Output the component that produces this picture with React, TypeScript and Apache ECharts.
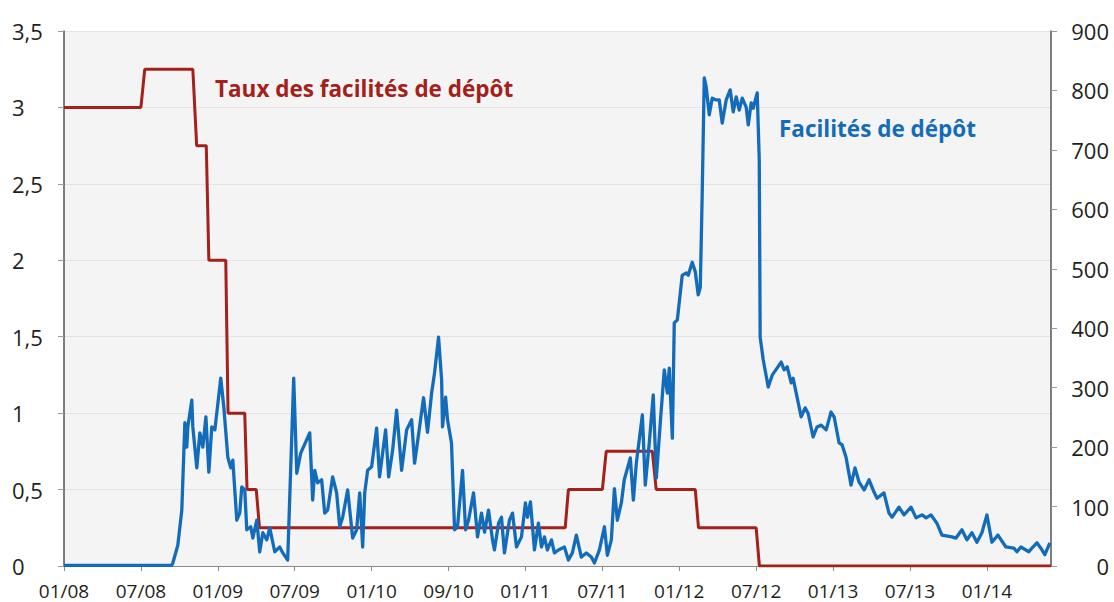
import React, { useEffect, useRef } from "react";
import * as echarts from "echarts";

// x values are months since 01/2008
const xTickLabels = ["01/08", "07/08", "01/09", "07/09", "01/10", "09/10", "01/11", "07/11", "01/12", "07/12", "01/13", "07/13", "01/14"];
const leftTickLabels = ["0", "0,5", "1", "1,5", "2", "2,5", "3", "3,5"];
const rightTickLabels = ["0", "100", "200", "300", "400", "500", "600", "700", "800", "900"];

const rateMonths = [0, 6.0, 6.3, 10.05, 10.35, 11.1, 11.3, 12.62, 12.8, 14.1, 14.28, 15.0, 15.25, 39.1, 39.35, 42.0, 42.3, 45.9, 46.2, 49.25, 49.5, 54.0, 54.25, 77];
const rateValues = [3, 3, 3.25, 3.25, 2.75, 2.75, 2.0, 2.0, 1.0, 1.0, 0.5, 0.5, 0.25, 0.25, 0.5, 0.5, 0.75, 0.75, 0.5, 0.5, 0.25, 0.25, 0, 0];

const depositMonths = [
  0, 4, 8.4, 8.49, 8.88, 9.19, 9.43, 9.58, 9.66, 9.97, 10.05, 10.36, 10.6, 10.83, 11.07, 11.3, 11.53, 11.77, 12.23, 12.47,
  12.78, 13.01, 13.17, 13.48, 13.71, 13.87, 14.1, 14.26, 14.57, 14.73, 15.04, 15.27, 15.51, 15.82, 16.05, 16.44, 16.83, 17.07, 17.45, 17.92,
  18.16, 18.47, 19.17, 19.4, 19.56, 19.79, 20.1, 20.34, 20.57, 20.96, 21.27, 21.51, 21.74, 22.13, 22.52, 22.83, 23.07, 23.3, 23.46, 23.69,
  24.0, 24.39, 24.62, 25.09, 25.33, 25.64, 25.95, 26.34, 26.73, 27.12, 27.35, 27.74, 28.05, 28.36, 28.68, 28.91, 29.22, 29.46, 29.53, 29.77,
  29.92, 30.23, 30.47, 30.7, 31.09, 31.33, 31.56, 31.95, 32.26, 32.57, 32.81, 33.12, 33.43, 33.58, 33.9, 34.13, 34.36, 34.75, 34.99, 35.3,
  35.69, 36.0, 36.16, 36.39, 36.7, 37.01, 37.25, 37.48, 37.71, 38.03, 38.26, 38.57, 39.04, 39.35, 39.66, 39.97, 40.36, 40.75, 41.14, 41.38,
  41.77, 42.16, 42.39, 42.7, 42.94, 43.17, 43.48, 43.71, 44.18, 44.42, 44.65, 45.12, 45.35, 45.66, 45.97, 46.21, 46.52, 46.83, 47.07, 47.22,
  47.46, 47.61, 47.85, 48.23, 48.55, 48.7, 49.01, 49.25, 49.48, 49.64, 49.79, 49.95, 50.1, 50.34, 50.57, 50.88, 51.12, 51.35, 51.66, 51.97,
  52.21, 52.44, 52.68, 52.91, 53.22, 53.38, 53.61, 53.77, 54.08, 54.24, 54.31, 54.55, 54.94, 55.25, 55.95, 56.18, 56.42, 56.73, 56.88, 57.51,
  57.82, 58.05, 58.44, 58.75, 59.07, 59.46, 59.84, 60.08, 60.47, 60.7, 61.01, 61.4, 61.71, 62.03, 62.42, 62.81, 63.2, 63.43, 63.97, 64.36,
  64.6, 65.14, 65.53, 66.08, 66.47, 66.94, 67.25, 67.64, 68.1, 68.49, 69.27, 69.59, 70.05, 70.44, 70.83, 71.22, 71.61, 72.0, 72.39, 72.86,
  73.48, 74.1, 74.34, 74.65, 75.27, 75.51, 75.9, 76.21, 76.52, 76.91
];
const depositValues = [
  1, 1, 1, 5, 35, 94, 241, 200, 234, 279, 234, 165, 224, 200, 251, 158, 234, 229, 316, 267,
  183, 165, 178, 77, 89, 133, 128, 61, 66, 47, 77, 24, 56, 44, 64, 24, 32, 22, 10, 316,
  156, 190, 224, 111, 161, 140, 145, 89, 94, 150, 123, 66, 82, 128, 47, 61, 123, 32, 123, 161,
  167, 232, 150, 229, 150, 195, 262, 161, 229, 246, 173, 234, 283, 225, 291, 325, 385, 313, 234, 284,
  246, 207, 61, 66, 161, 61, 77, 123, 49, 89, 57, 94, 44, 27, 72, 82, 22, 77, 89, 32,
  49, 106, 82, 108, 27, 72, 32, 49, 27, 44, 22, 27, 32, 10, 22, 52, 15, 22, 15, 5,
  27, 66, 18, 44, 130, 77, 106, 145, 182, 111, 173, 254, 136, 207, 288, 148, 241, 330, 291, 333,
  215, 409, 414, 489, 493, 489, 511, 495, 456, 469, 627, 821, 806, 759, 787, 784, 784, 745, 784, 801,
  764, 789, 767, 787, 772, 742, 779, 770, 796, 683, 385, 347, 301, 321, 343, 330, 335, 308, 316, 251,
  266, 257, 217, 234, 237, 229, 259, 251, 207, 204, 183, 136, 165, 141, 128, 145, 124, 114, 123, 89,
  82, 99, 86, 99, 81, 86, 81, 86, 72, 52, 49, 47, 61, 44, 56, 40, 56, 86, 40, 52,
  32, 30, 24, 32, 24, 30, 39, 30, 19, 39
];

const rateLabel = "Taux des facilités de dépôt";
const depositLabel = "Facilités de dépôt";

const RED = "#a3201b";
const BLUE = "#136cba";
const FONT = "Open Sans";

export default function App() {
  const ref = useRef<HTMLDivElement>(null);
  useEffect(() => {
    document.body.style.margin = "0";
    if (!ref.current) return;
    const chart = echarts.init(ref.current, null, { renderer: "svg" });
    const axisLabelBase = { color: "#231f20", fontSize: 22, fontFamily: FONT };
    chart.setOption({
      animation: false,
      backgroundColor: "#ffffff",
      grid: {
        left: 64,
        right: 63,
        top: 31,
        bottom: 36,
        show: true,
        backgroundColor: "#f4f4f4",
        borderWidth: 0,
      },
      xAxis: {
        type: "value",
        min: 0,
        max: 77,
        interval: 6,
        axisLine: { show: true, onZero: false, lineStyle: { color: "#8a8a8a", width: 1 } },
        axisTick: { show: true, length: 5, lineStyle: { color: "#8a8a8a" } },
        splitLine: { show: false },
        axisLabel: {
          ...axisLabelBase,
          fontSize: 19,
          margin: 15,
          showMaxLabel: false,
          formatter: (v: number) => xTickLabels[Math.round(v / 6)] ?? "",
        },
      },
      yAxis: [
        {
          type: "value",
          min: 0,
          max: 3.5,
          interval: 0.5,
          position: "left",
          axisLine: { show: true, lineStyle: { color: "#555555", width: 1.5 } },
          axisTick: { show: true, length: 6, lineStyle: { color: "#9a9a9a" } },
          splitLine: { show: true, lineStyle: { color: "#e3e3e3", width: 1 } },
          axisLabel: {
            ...axisLabelBase,
            align: "left",
            margin: 52,
            formatter: (v: number) => leftTickLabels[Math.round(v / 0.5)] ?? "",
          },
        },
        {
          type: "value",
          min: 0,
          max: 900,
          interval: 100,
          position: "right",
          axisLine: { show: true, lineStyle: { color: "#555555", width: 1.5 } },
          axisTick: { show: true, length: 6, lineStyle: { color: "#9a9a9a" } },
          splitLine: { show: false },
          axisLabel: {
            ...axisLabelBase,
            align: "right",
            margin: 58,
            formatter: (v: number) => rightTickLabels[Math.round(v / 100)] ?? "",
          },
        },
      ],
      series: [
        {
          type: "line",
          name: rateLabel,
          yAxisIndex: 0,
          data: rateMonths.map((m, i) => [m, rateValues[i]]),
          symbol: "none",
          lineStyle: { color: RED, width: 3 },
          z: 2,
        },
        {
          type: "line",
          name: depositLabel,
          yAxisIndex: 1,
          data: depositMonths.map((m, i) => [m, depositValues[i]]),
          symbol: "none",
          lineStyle: { color: BLUE, width: 3.3, join: "round" },
          z: 3,
        },
      ],
      graphic: [
        {
          type: "text",
          left: 215,
          top: 77,
          style: { text: rateLabel, fill: RED, font: `bold 22.5px "${FONT}"` },
        },
        {
          type: "text",
          left: 779,
          top: 117,
          style: { text: depositLabel, fill: BLUE, font: `bold 22.5px "${FONT}"` },
        },
      ],
    });
    return () => chart.dispose();
  }, []);
  return <div ref={ref} style={{ width: 1114, height: 602 }} />;
}
